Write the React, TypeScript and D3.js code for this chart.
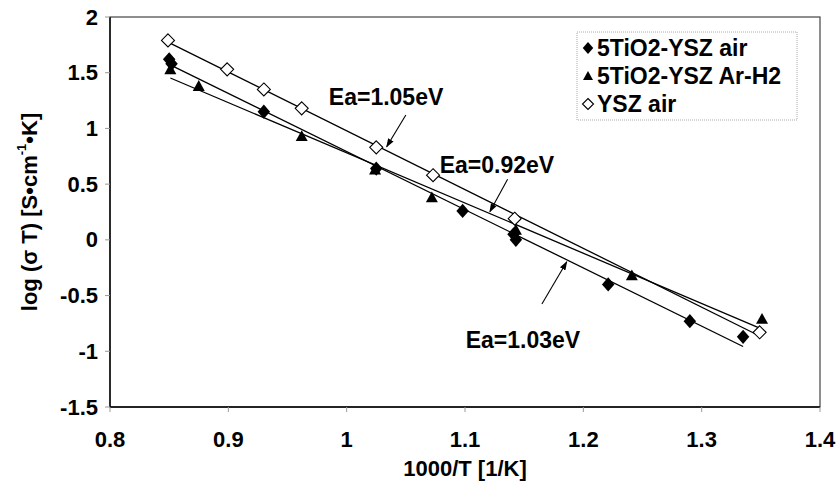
import React from "react";
import * as d3 from "d3";

// Conductivity data: log(sigma*T) against 1000/T
const ticoAirX = [0.850, 0.852, 0.930, 1.025, 1.098, 1.141, 1.143, 1.221, 1.290, 1.335];
const ticoAirY = [1.62, 1.58, 1.15, 0.64, 0.26, 0.05, 0.0, -0.40, -0.73, -0.87];

const ticoArH2X = [0.851, 0.875, 0.962, 1.024, 1.072, 1.143, 1.241, 1.351];
const ticoArH2Y = [1.53, 1.38, 0.93, 0.63, 0.38, 0.09, -0.32, -0.71];

const yszAirX = [0.849, 0.899, 0.930, 0.962, 1.025, 1.073, 1.142, 1.349];
const yszAirY = [1.79, 1.53, 1.35, 1.18, 0.83, 0.58, 0.19, -0.83];

const seriesNames = ["5TiO2-YSZ air", "5TiO2-YSZ Ar-H2", "YSZ air"];

const xTicks = [0.8, 0.9, 1.0, 1.1, 1.2, 1.3, 1.4];
const yTicks = [2, 1.5, 1, 0.5, 0, -0.5, -1, -1.5];

// Activation-energy callouts: label position and arrow (data units)
const eaLabels = ["Ea=1.05eV", "Ea=0.92eV", "Ea=1.03eV"];
const eaLabelPos = [[1.0333, 1.282], [1.127, 0.671], [1.149, -0.9]];
const eaArrowFrom = [[1.050, 1.12], [1.136, 0.543], [1.165, -0.576]];
const eaArrowTo = [[1.0338, 0.836], [1.121, 0.252], [1.186, -0.197]];

const W = 837;
const H = 485;
const M = { left: 110, right: 17, top: 17, bottom: 78 };
const FONT = "'Liberation Sans', Arial, Helvetica, sans-serif";

function fit(xs: number[], ys: number[]) {
  const mx = d3.mean(xs)!;
  const my = d3.mean(ys)!;
  let sxy = 0;
  let sxx = 0;
  xs.forEach((x, i) => {
    sxy += (x - mx) * (ys[i] - my);
    sxx += (x - mx) * (x - mx);
  });
  const slope = sxy / sxx;
  const intercept = my - slope * mx;
  const [x0, x1] = d3.extent(xs) as [number, number];
  return [
    [x0, intercept + slope * x0],
    [x1, intercept + slope * x1],
  ];
}

function Marker({ kind, x, y, s }: { kind: number; x: number; y: number; s: number }) {
  if (kind === 0) {
    const h = s * 0.55;
    const w = s * 0.48;
    return <path d={`M${x},${y - h}L${x + w},${y}L${x},${y + h}L${x - w},${y}Z`} fill="#000" />;
  }
  if (kind === 1) {
    const h = s * 0.5;
    return <path d={`M${x},${y - h}L${x + h},${y + h * 0.8}L${x - h},${y + h * 0.8}Z`} fill="#000" />;
  }
  const h = s * 0.5;
  const w = s * 0.5;
  return (
    <path
      d={`M${x},${y - h}L${x + w},${y}L${x},${y + h}L${x - w},${y}Z`}
      fill="#fff"
      stroke="#000"
      strokeWidth={1.1}
    />
  );
}

export default function App() {
  const x = d3.scaleLinear().domain([0.8, 1.4]).range([M.left, W - M.right]);
  const y = d3.scaleLinear().domain([-1.5, 2]).range([H - M.bottom, M.top]);

  const series = [
    { xs: ticoAirX, ys: ticoAirY },
    { xs: ticoArH2X, ys: ticoArH2Y },
    { xs: yszAirX, ys: yszAirY },
  ];
  const line = d3
    .line<number[]>()
    .x((d) => x(d[0]))
    .y((d) => y(d[1]));

  const x0 = M.left;
  const x1 = W - M.right;
  const y0 = H - M.bottom;
  const y1 = M.top;

  return (
    <svg
      width={W}
      height={H}
      style={{ position: "absolute", left: 0, top: 0, background: "#fff" }}
      fontFamily={FONT}
      fontWeight="bold"
    >
      <defs>
        <marker id="ah" viewBox="0 0 10 10" refX="9" refY="5" markerWidth="9" markerHeight="9" orient="auto" markerUnits="userSpaceOnUse">
          <path d="M0,1.5L10,5L0,8.5Z" fill="#000" />
        </marker>
      </defs>

      {/* plot frame */}
      <rect x={x0} y={y1} width={x1 - x0} height={y0 - y1} fill="none" stroke="#444" strokeWidth={1.2} />
      <line x1={x0} x2={x0} y1={y1} y2={y0} stroke="#000" strokeWidth={1.4} />
      <line x1={x0} x2={x1} y1={y0} y2={y0} stroke="#000" strokeWidth={1.4} />

      {/* y axis */}
      {yTicks.map((t) => (
        <g key={"y" + t}>
          <line x1={x0 - 5} x2={x0} y1={y(t)} y2={y(t)} stroke="#999" strokeWidth={1} />
          <text x={x0 - 12} y={y(t)} textAnchor="end" dominantBaseline="central" fontSize={22}>
            {String(t)}
          </text>
        </g>
      ))}

      {/* x axis */}
      {xTicks.map((t) => (
        <g key={"x" + t}>
          <line x1={x(t)} x2={x(t)} y1={y0} y2={y0 + 5} stroke="#999" strokeWidth={1} />
          <text x={x(t)} y={y0 + 32} textAnchor="middle" dominantBaseline="central" fontSize={22}>
            {String(t)}
          </text>
        </g>
      ))}

      <text x={(x0 + x1) / 2} y={y0 + 61} textAnchor="middle" dominantBaseline="central" fontSize={22}>
        1000/T [1/K]
      </text>
      <text
        transform={`translate(29,${(y0 + y1) / 2}) rotate(-90)`}
        textAnchor="middle"
        dominantBaseline="central"
        fontSize={22}
      >
        log (σ T) [S•cm
        <tspan fontSize={13} dy={-8}>-1</tspan>
        <tspan dy={8}>•K]</tspan>
      </text>

      {/* trend lines */}
      {series.map((s, i) => (
        <path key={"fit" + i} d={line(fit(s.xs, s.ys))!} fill="none" stroke="#000" strokeWidth={1.3} />
      ))}

      {/* points */}
      {series.map((s, i) => (
        <g key={"pts" + i}>
          {s.xs.map((v, j) => (
            <Marker key={j} kind={i} x={x(v)} y={y(s.ys[j])} s={i === 1 ? 12 : 13} />
          ))}
        </g>
      ))}

      {/* activation energy callouts */}
      {eaLabels.map((lab, i) => (
        <g key={"ea" + i}>
          <line
            x1={x(eaArrowFrom[i][0])}
            y1={y(eaArrowFrom[i][1])}
            x2={x(eaArrowTo[i][0])}
            y2={y(eaArrowTo[i][1])}
            stroke="#000"
            strokeWidth={1.1}
            markerEnd="url(#ah)"
          />
          <text
            x={x(eaLabelPos[i][0])}
            y={y(eaLabelPos[i][1])}
            textAnchor="middle"
            dominantBaseline="central"
            fontSize={23}
          >
            {lab}
          </text>
        </g>
      ))}

      {/* legend */}
      <rect x={577} y={32} width={220} height={88} fill="#fff" stroke="#aaa" strokeDasharray="1,1" />
      {seriesNames.map((n, i) => (
        <g key={"lg" + i}>
          <Marker kind={i} x={588} y={48 + i * 28} s={i === 1 ? 10 : 11} />
          <text x={597} y={48 + i * 28} dominantBaseline="central" fontSize={23}>
            {n}
          </text>
        </g>
      ))}
    </svg>
  );
}
